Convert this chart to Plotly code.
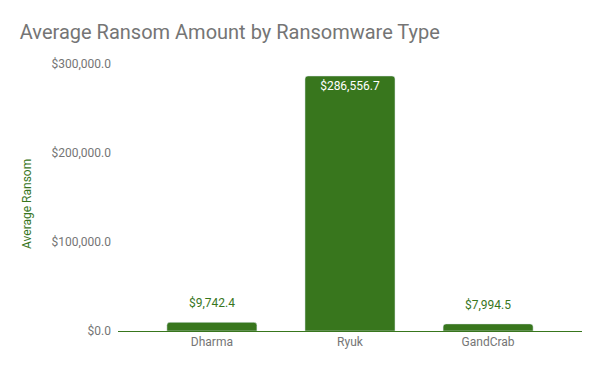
import plotly.graph_objects as go

categories = ["Dharma", "Ryuk", "GandCrab"]
values = [9742.4, 286556.7, 7994.5]
tick_vals = [0, 100000, 200000, 300000]

green = "#38761d"
gray = "#757575"

labels = ["$" + format(v, ",.1f") for v in values]
tick_text = ["$" + format(v, ",.1f") for v in tick_vals]
inside = [v > 100000 for v in values]

fig = go.Figure(go.Bar(
    x=categories, y=values,
    marker=dict(color=green, cornerradius=3),
    text=[l if ins else "" for l, ins in zip(labels, inside)],
    textposition="inside",
    insidetextanchor="end",
    textfont=dict(color="white", size=12, family="Roboto"),
))

for c, v, l, ins in zip(categories, values, labels, inside):
    if not ins:
        fig.add_annotation(x=c, y=v, text=l, showarrow=False, yanchor="middle", yshift=19,
                           font=dict(color=green, size=12, family="Roboto"))

fig.add_annotation(text="Average Ransom", xref="paper", yref="paper", x=-0.196, y=0.476,
                   textangle=-90, showarrow=False, xanchor="center", yanchor="middle",
                   font=dict(color=green, size=12, family="Roboto"))

fig.update_layout(
    width=600, height=371,
    margin=dict(l=118, r=18, t=64, b=40),
    paper_bgcolor="white", plot_bgcolor="white",
    bargap=0.348,
    showlegend=False,
    font=dict(family="Roboto", color=gray, size=12),
    title=dict(text="Average Ransom Amount by Ransomware Type",
               x=0.033, xanchor="left", y=0.913, yanchor="middle",
               font=dict(family="Roboto", size=20, color=gray)),
)
fig.update_xaxes(range=[-0.68, 2.68], showline=True, linecolor=green, linewidth=1,
                 ticks="", tickfont=dict(color=gray, size=12), showgrid=False)
fig.update_yaxes(range=[0, 300000], tickmode="array", tickvals=tick_vals, ticktext=tick_text,
                 showgrid=False, zeroline=False, ticks="", ticklabelstandoff=6,
                 tickfont=dict(color=gray, size=12))

fig.write_html("out.html")
